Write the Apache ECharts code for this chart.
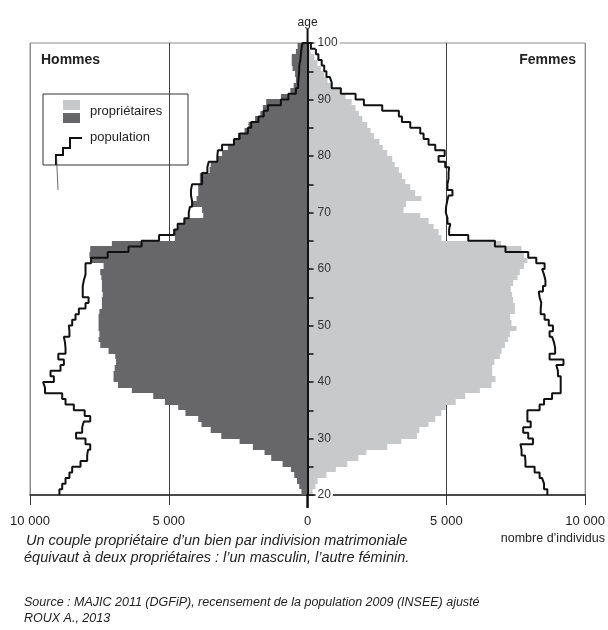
<!DOCTYPE html>
<html>
<head>
<meta charset="utf-8">
<script src="https://cdn.jsdelivr.net/npm/echarts@6/dist/echarts.min.js"></script>
<style>
  html, body { margin: 0; padding: 0; background: #fff; }
  #pyramid { width: 608px; height: 630px; }
</style>
</head>
<body>
<div id="pyramid"></div>
<script>
  // ages 20 .. 99, one bar per year
  const ages = [];
  for (let a = 20; a < 100; a++) ages.push(a);

  // propriétaires, hommes (20 -> 99)
  const menOwners = [
    220, 300, 380, 480, 600, 900, 1310, 1550, 1970, 2450,
    3110, 3490, 3820, 3940, 4400, 4660, 5140, 5560, 6330, 6830,
    6990, 6990, 6950, 6900, 6930, 7170, 7470, 7530, 7500, 7530,
    7530, 7530, 7500, 7410, 7410, 7380, 7410, 7410, 7430, 7470,
    7350, 7790, 7860, 7830, 7050, 4780, 4840, 4680, 4420, 3760,
    3800, 4180, 4000, 3940, 3940, 3880, 3880, 3530, 3490, 3230,
    3080, 2870, 2690, 2510, 2270, 2130, 1890, 1700, 1610, 1490,
    960, 620, 500, 420, 450, 540, 570, 570, 420, 360
  ];
  // population, hommes
  const menPop = [
    8940, 8840, 8720, 8580, 8480, 8180, 7940, 7910, 7830, 8000,
    8340, 8120, 8060, 7830, 8030, 8420, 8720, 8840, 9460, 9530,
    9140, 9260, 8900, 8780, 8980, 8720, 8740, 8780, 8580, 8600,
    8480, 8360, 8240, 8000, 7890, 8100, 8100, 8060, 8000, 8000,
    8000, 7800, 7200, 6450, 5980, 5350, 4800, 4680, 4440, 4280,
    4240, 4160, 4200, 4200, 4160, 3800, 3800, 3610, 3560, 3250,
    3230, 3080, 2650, 2450, 2150, 2030, 1770, 1580, 1430, 960,
    690, 420, 340, 320, 300, 300, 260, 240, 220, 180
  ];
  // propriétaires, femmes
  const womenOwners = [
    180, 280, 360, 680, 1020, 1430, 1830, 2120, 2870, 3380,
    3940, 4030, 4360, 4600, 4820, 4980, 5340, 5680, 6210, 6630,
    6770, 6650, 6650, 6730, 6930, 6990, 7110, 7230, 7290, 7530,
    7350, 7300, 7470, 7470, 7410, 7370, 7320, 7410, 7560, 7650,
    7800, 7920, 7800, 7710, 6970, 4820, 4720, 4540, 4360, 4060,
    3460, 3550, 4100, 3880, 3700, 3520, 3400, 3290, 3140, 3050,
    2870, 2710, 2590, 2390, 2270, 2150, 1970, 1850, 1730, 1590,
    1370, 1200, 900, 720, 600, 480, 360, 240, 120, 60
  ];
  // population, femmes
  const womenPop = [
    8640, 8520, 8450, 8360, 8180, 7850, 7830, 7710, 7670, 8120,
    7950, 7770, 8040, 7920, 7920, 8360, 8520, 8810, 9120, 9120,
    9120, 9020, 8960, 9220, 8720, 8920, 8880, 8810, 8720, 8840,
    8690, 8540, 8400, 8420, 8360, 8330, 8480, 8570, 8520, 8450,
    8540, 8240, 7950, 7130, 6750, 5790, 5100, 5140, 5040, 4980,
    4990, 5030, 5080, 5220, 5040, 5080, 5080, 5100, 4960, 4720,
    4940, 4600, 4360, 4180, 4060, 3700, 3400, 3290, 2690, 2030,
    1730, 1200, 870, 800, 680, 600, 510, 390, 300, 120
  ];

  const xTicks = [-10000, -5000, 0, 5000, 10000];

  const FONT = "'Liberation Sans', Arial, sans-serif";
  const DARK = '#67676a';
  const LIGHT = '#c8c9cb';

  const fmtNum = (v) => String(Math.abs(v)).replace(/\B(?=(\d{3})+(?!\d))/g, ' ');

  // barre d'un an : de l'âge a à a+1 (bords arrondis au pixel, pas de liseré entre barres)
  const barItem = (color) => (params, api) => {
    const v = api.value(0);
    const a = api.value(1);
    const p0 = api.coord([0, a]);
    const p1 = api.coord([v, a + 1]);
    const yTop = Math.round(p1[1]);
    const yBottom = Math.round(p0[1]);
    return {
      type: 'rect',
      shape: {
        x: Math.min(p0[0], p1[0]),
        y: yTop,
        width: Math.abs(p1[0] - p0[0]),
        height: yBottom - yTop,
      },
      style: { fill: color },
    };
  };

  // contour en escalier
  const stepLine = (vals, sign) => {
    const pts = [];
    vals.forEach((v, i) => {
      pts.push([sign * v, ages[i]]);
      pts.push([sign * v, ages[i] + 1]);
    });
    pts.push([0, 100]);
    return pts;
  };

  const myChart = echarts.init(document.getElementById('pyramid'));

  myChart.setOption({
    animation: false,
    textStyle: { fontFamily: FONT },
    grid: {
      left: 30,
      right: 20,
      top: 43,
      bottom: 135,
      show: true,
      borderColor: '#8c8c8c',
      borderWidth: 1,
    },
    xAxis: {
      type: 'value',
      min: xTicks[0],
      max: xTicks[xTicks.length - 1],
      interval: 5000,
      axisLine: { show: true, onZero: false, lineStyle: { color: '#222', width: 1.5 } },
      axisTick: { show: true, length: 10, lineStyle: { color: '#333', width: 1 } },
      axisLabel: {
        formatter: fmtNum,
        color: '#222',
        fontSize: 13,
        margin: 20,
        fontFamily: FONT,
      },
      splitLine: {
        show: true,
        lineStyle: { color: ['#8c8c8c', '#444', '#444', '#444', '#8c8c8c'], width: 1 },
      },
    },
    yAxis: {
      type: 'value',
      min: 20,
      max: 100,
      interval: 10,
      z: 10,
      name: 'age',
      nameLocation: 'end',
      nameGap: 14,
      nameTextStyle: { color: '#222', fontSize: 12, fontFamily: FONT },
      axisLine: { show: true, onZero: false, lineStyle: { color: '#111', width: 2 } },
      axisTick: { show: true, inside: true, length: 6, lineStyle: { color: '#111', width: 1.5 } },
      minorTick: { show: true, splitNumber: 2, length: 6, lineStyle: { color: '#111', width: 1.5 } },
      axisLabel: {
        inside: true,
        margin: 8,
        color: '#333',
        fontSize: 12,
        fontFamily: FONT,
        // 20 et 100 coupent le cadre : fond blanc
        formatter: (v) => (v === 20 || v === 100 ? '{edge|' + v + '}' : '{mid|' + v + '}'),
        rich: {
          edge: { backgroundColor: '#fff', padding: [0, 2], color: '#333', fontSize: 12, fontFamily: FONT },
          mid: { padding: [0, 2], color: '#333', fontSize: 12, fontFamily: FONT },
        },
      },
      splitLine: { show: false },
    },
    series: [
      {
        name: 'propriétaires hommes',
        type: 'custom',
        renderItem: barItem(DARK),
        encode: { x: 0, y: 1 },
        data: menOwners.map((v, i) => [-v, ages[i]]),
        z: 1,
      },
      {
        name: 'propriétaires femmes',
        type: 'custom',
        renderItem: barItem(LIGHT),
        encode: { x: 0, y: 1 },
        data: womenOwners.map((v, i) => [v, ages[i]]),
        z: 1,
      },
      {
        name: 'population hommes',
        type: 'line',
        data: stepLine(menPop, -1),
        showSymbol: false,
        lineStyle: { color: '#111', width: 2 },
        z: 3,
      },
      {
        name: 'population femmes',
        type: 'line',
        data: stepLine(womenPop, 1),
        showSymbol: false,
        lineStyle: { color: '#111', width: 2 },
        z: 3,
      },
    ],
  });

  // l'axe des âges est placé sur le zéro
  const x0 = myChart.convertToPixel({ xAxisIndex: 0 }, 0);
  const xLeft = myChart.convertToPixel({ xAxisIndex: 0 }, xTicks[0]);

  myChart.setOption({
    yAxis: { offset: -(x0 - xLeft) },
    graphic: [
      // prolongement de l'axe des âges
      { type: 'line', shape: { x1: x0, y1: 29, x2: x0, y2: 44 }, style: { stroke: '#111', lineWidth: 2 }, z: 10 },
      { type: 'line', shape: { x1: x0, y1: 494, x2: x0, y2: 508 }, style: { stroke: '#111', lineWidth: 2.5 }, z: 10 },
      { type: 'text', left: 41, top: 53, style: { text: 'Hommes', font: 'bold 14px ' + FONT, fill: '#222' } },
      { type: 'text', right: 32, top: 53, style: { text: 'Femmes', font: 'bold 14px ' + FONT, fill: '#222' } },
      // légende
      { type: 'rect', shape: { x: 43, y: 94, width: 145, height: 71 }, style: { fill: 'none', stroke: '#333', lineWidth: 1 } },
      { type: 'rect', shape: { x: 63, y: 100, width: 17, height: 10 }, style: { fill: LIGHT } },
      { type: 'rect', shape: { x: 63, y: 113, width: 17, height: 10 }, style: { fill: DARK } },
      { type: 'text', x: 90, y: 111, style: { text: 'propriétaires', font: '13px ' + FONT, fill: '#222', verticalAlign: 'middle' } },
      { type: 'text', x: 90, y: 137, style: { text: 'population', font: '13px ' + FONT, fill: '#222', verticalAlign: 'middle' } },
      {
        type: 'polyline',
        shape: { points: [[56, 165], [56, 155], [63, 155], [63, 148], [70, 148], [70, 138], [82, 138]] },
        style: { stroke: '#111', lineWidth: 2, fill: 'none' },
      },
      { type: 'line', shape: { x1: 56.5, y1: 156, x2: 58, y2: 190 }, style: { stroke: '#444', lineWidth: 0.8 } },
      // unité
      { type: 'text', right: 3, top: 532, style: { text: 'nombre d\u2019individus', font: '12.5px ' + FONT, fill: '#222' } },
      // notes
      { type: 'text', x: 26, y: 541, style: { text: 'Un couple propriétaire d\u2019un bien par indivision matrimoniale', font: 'italic 14.5px ' + FONT, fill: '#222', verticalAlign: 'middle' } },
      { type: 'text', x: 24, y: 558, style: { text: 'équivaut à deux propriétaires : l\u2019un masculin, l\u2019autre féminin.', font: 'italic 14.5px ' + FONT, fill: '#222', verticalAlign: 'middle' } },
      { type: 'text', x: 24, y: 603, style: { text: 'Source : MAJIC 2011 (DGFiP), recensement de la population 2009 (INSEE) ajusté', font: 'italic 12.5px ' + FONT, fill: '#222', verticalAlign: 'middle' } },
      { type: 'text', x: 24, y: 619, style: { text: 'ROUX A., 2013', font: 'italic 12.5px ' + FONT, fill: '#222', verticalAlign: 'middle' } },
    ],
  });

  window.addEventListener('resize', function () {
    myChart && myChart.resize();
  });
</script>
</body>
</html>
